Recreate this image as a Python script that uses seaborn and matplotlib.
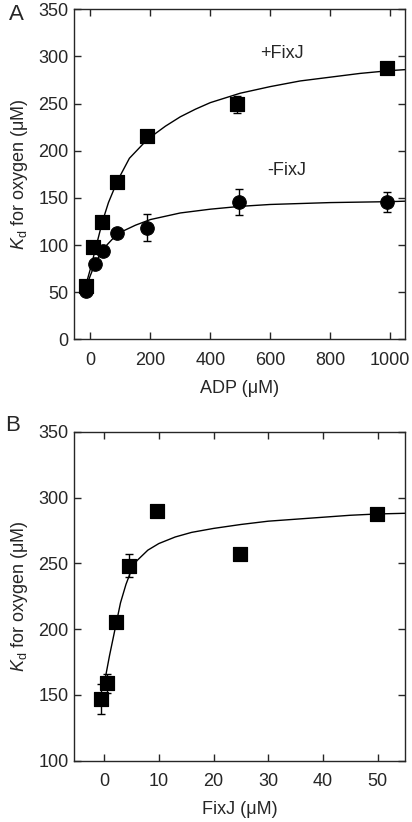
import matplotlib
matplotlib.use("Agg")
import matplotlib.pyplot as plt
import seaborn as sns
import pandas as pd

sns.set_style("ticks")
plt.rcParams['font.family'] = ['Liberation Sans', 'DejaVu Sans']
plt.rcParams['mathtext.fontset'] = 'custom'
plt.rcParams['mathtext.rm'] = 'Liberation Sans'
plt.rcParams['mathtext.it'] = 'Liberation Sans:italic'

# Panel A: Kd vs ADP
adp_plus = [-15, 10, 40, 90, 190, 490, 990]
kd_plus = [56.5, 97.5, 124.7, 166.5, 215.6, 249.5, 287.4]
err_plus = [0, 0, 0, 0, 0, 9, 0]
adp_minus = [-14, 14, 42, 87, 190, 495, 991]
kd_minus = [51.6, 79.9, 94, 112.4, 118.4, 145.6, 145.6]
err_minus = [0, 0, 0, 0, 14.5, 13.7, 10.5]

# fitted curves
fit_plus_x = [-15, 0, 20, 40, 60, 90, 130, 190, 250, 300, 350, 400, 450, 500, 600, 700, 800, 900, 1000, 1050]
fit_plus_y = [58, 75, 100, 125, 145, 168, 192, 212, 226, 236, 244, 251, 256, 261, 268, 274, 278, 282, 285, 286]
fit_minus_x = [-15, 0, 15, 40, 90, 150, 200, 300, 400, 500, 600, 800, 1000, 1050]
fit_minus_y = [55, 68, 80, 95, 112, 121, 127, 134, 138, 141, 143, 145, 146, 146.5]

# Panel B: Kd vs FixJ
fixj = [-0.5, 0.45, 2.2, 4.5, 9.6, 24.8, 49.9]
kd_fixj = [146.9, 158.8, 205.2, 248.2, 289.8, 257, 287.2]
err_fixj = [11.5, 7, 0, 8.5, 0, 0, 0]
fit_b_x = [0, 1, 2, 3, 4, 5, 6, 8, 10, 13, 16, 20, 25, 30, 35, 40, 45, 50, 55]
fit_b_y = [158, 180, 200, 220, 234, 245, 252, 260, 265, 270, 273.5, 276.5, 279.5, 282, 283.5, 285, 286.5, 287.5, 288]

fig = plt.figure(figsize=(4.12, 8.22), dpi=100)
axA = fig.add_axes([74 / 412, 1 - 339.3 / 822, 331 / 412, 330 / 822])
axB = fig.add_axes([74 / 412, 1 - 760.7 / 822, 331 / 412, 329 / 822])

df_plus = pd.DataFrame({"x": fit_plus_x, "y": fit_plus_y})
df_minus = pd.DataFrame({"x": fit_minus_x, "y": fit_minus_y})
sns.lineplot(data=df_plus, x="x", y="y", ax=axA, color="black", lw=1.0, sort=False)
sns.lineplot(data=df_minus, x="x", y="y", ax=axA, color="black", lw=1.0, sort=False)
axA.errorbar(adp_minus, kd_minus, yerr=err_minus, fmt="none", ecolor="black", elinewidth=1, capsize=3)
axA.errorbar(adp_plus, kd_plus, yerr=err_plus, fmt="none", ecolor="black", elinewidth=1, capsize=3)
sns.scatterplot(x=adp_minus, y=kd_minus, ax=axA, marker="o", s=95, color="black", edgecolor="black", zorder=3)
sns.scatterplot(x=adp_plus, y=kd_plus, ax=axA, marker="s", s=115, color="black", edgecolor="black", zorder=3)
axA.text(638, 303, "+FixJ", ha="center", va="center", fontsize=13)
axA.text(655, 179, "-FixJ", ha="center", va="center", fontsize=13)
axA.set_xlim(-55, 1050)
axA.set_ylim(0, 350)
axA.set_xticks([0, 200, 400, 600, 800, 1000])
axA.set_yticks(range(0, 351, 50))
axA.set_xlabel("ADP (μM)", fontsize=13, labelpad=8)

df_b = pd.DataFrame({"x": fit_b_x, "y": fit_b_y})
sns.lineplot(data=df_b, x="x", y="y", ax=axB, color="black", lw=1.0, sort=False)
axB.errorbar(fixj, kd_fixj, yerr=err_fixj, fmt="none", ecolor="black", elinewidth=1, capsize=3)
sns.scatterplot(x=fixj, y=kd_fixj, ax=axB, marker="s", s=115, color="black", edgecolor="black", zorder=3)
axB.set_xlim(-5.5, 55)
axB.set_ylim(100, 350)
axB.set_xticks([0, 10, 20, 30, 40, 50])
axB.set_yticks(range(100, 351, 50))
axB.set_xlabel("FixJ (μM)", fontsize=13, labelpad=8)

for ax in (axA, axB):
    ax.set_ylabel(r"$K_\mathrm{d}$ for oxygen (μM)", fontsize=13, labelpad=6)
    ax.tick_params(direction="in", top=True, right=True, labelsize=13, length=5, width=1)
    ax.tick_params(axis="x", pad=9)
    ax.tick_params(axis="y", pad=4)
    for sp in ax.spines.values():
        sp.set_linewidth(1.0)
        sp.set_visible(True)

fig.text(16 / 412, 1 - 15 / 822, "A", fontsize=16, ha="center", va="center")
fig.text(13 / 412, 1 - 425 / 822, "B", fontsize=16, ha="center", va="center")

fig.savefig("out.png", dpi=100)
